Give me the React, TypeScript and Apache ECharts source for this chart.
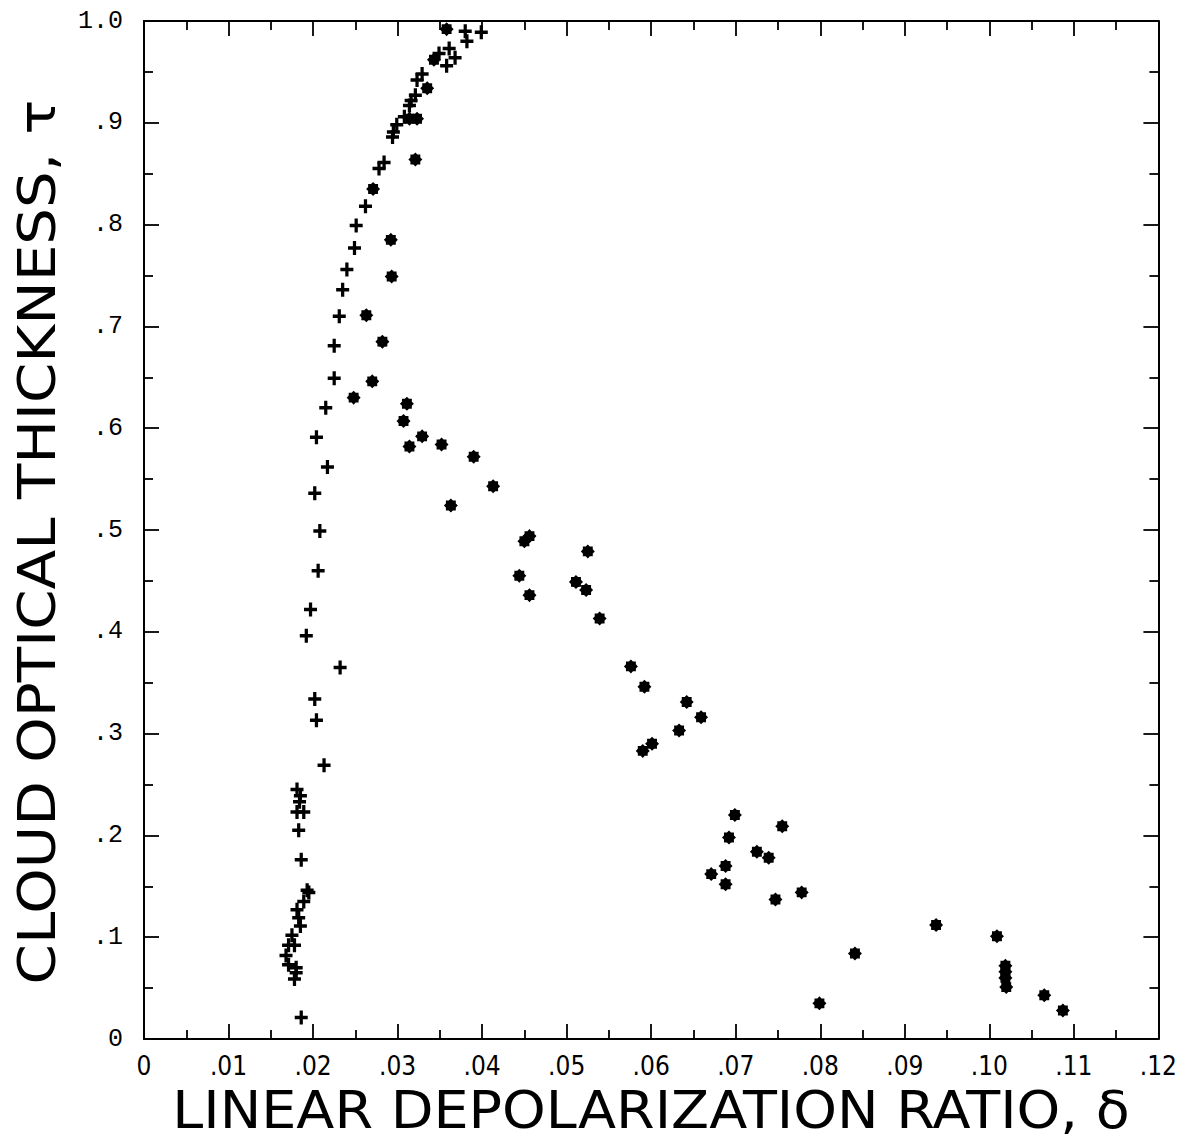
import React, { useEffect, useRef } from "react";
import * as echarts from "echarts";

// "+" series: linear depolarization ratio (delta) vs cloud optical thickness (tau)
const plusDelta = [
  0.0380, 0.0399, 0.0382, 0.0361, 0.0349, 0.0368, 0.0358, 0.0329, 0.0323, 0.0321,
  0.0316, 0.0314, 0.0308, 0.0299, 0.0295, 0.0294, 0.0284, 0.0278, 0.0262, 0.0251,
  0.0249, 0.0240, 0.0235, 0.0231, 0.0225, 0.0225, 0.0215, 0.0204, 0.0217, 0.0202,
  0.0208, 0.0206, 0.0197, 0.0192, 0.0232, 0.0202, 0.0204, 0.0213, 0.0181, 0.0185,
  0.0184, 0.0181, 0.0189, 0.0183, 0.0186, 0.0195, 0.0193, 0.0189, 0.0181, 0.0183,
  0.0185, 0.0175, 0.0171, 0.0178, 0.0168, 0.0171, 0.0180, 0.0180, 0.0178, 0.0186,
];
const plusTau = [
  0.990, 0.989, 0.980, 0.973, 0.968, 0.964, 0.956, 0.948, 0.942, 0.927,
  0.922, 0.917, 0.906, 0.898, 0.891, 0.886, 0.861, 0.855, 0.818, 0.799,
  0.777, 0.756, 0.736, 0.710, 0.681, 0.649, 0.620, 0.591, 0.562, 0.536,
  0.499, 0.460, 0.422, 0.396, 0.365, 0.334, 0.313, 0.269, 0.245, 0.239,
  0.233, 0.223, 0.223, 0.205, 0.176, 0.144, 0.146, 0.135, 0.127, 0.119,
  0.111, 0.102, 0.092, 0.092, 0.082, 0.073, 0.070, 0.065, 0.059, 0.021,
];

// asterisk series
const starDelta = [
  0.0358, 0.0343, 0.0335, 0.0314, 0.0323, 0.0321, 0.0271, 0.0292, 0.0293, 0.0263,
  0.0282, 0.0270, 0.0248, 0.0311, 0.0307, 0.0314, 0.0329, 0.0352, 0.0390, 0.0413,
  0.0363, 0.0450, 0.0456, 0.0444, 0.0456, 0.0525, 0.0511, 0.0523, 0.0539, 0.0576,
  0.0592, 0.0642, 0.0659, 0.0633, 0.0590, 0.0601, 0.0699, 0.0755, 0.0692, 0.0725,
  0.0739, 0.0688, 0.0671, 0.0688, 0.0747, 0.0778, 0.0937, 0.0841, 0.1009, 0.1019,
  0.1019, 0.1019, 0.1020, 0.0799, 0.1065, 0.1087,
];
const starTau = [
  0.992, 0.962, 0.934, 0.904, 0.904, 0.864, 0.835, 0.785, 0.749, 0.711,
  0.685, 0.646, 0.630, 0.624, 0.607, 0.582, 0.592, 0.584, 0.572, 0.543,
  0.524, 0.489, 0.494, 0.455, 0.436, 0.479, 0.449, 0.441, 0.413, 0.366,
  0.346, 0.331, 0.316, 0.303, 0.283, 0.290, 0.220, 0.209, 0.198, 0.184,
  0.178, 0.170, 0.162, 0.152, 0.137, 0.144, 0.112, 0.084, 0.101, 0.072,
  0.066, 0.060, 0.051, 0.035, 0.043, 0.028,
];

const xTitle = "LINEAR DEPOLARIZATION RATIO, δ";
const yTitle = "CLOUD OPTICAL THICKNESS, τ";

const TITLE_FONT = "'DejaVu Sans', sans-serif";
const XLABEL_FONT = "'Liberation Sans Narrow', 'DejaVu Sans Condensed', 'DejaVu Sans', sans-serif";
const YLABEL_FONT = "'Liberation Mono', 'DejaVu Sans Mono', monospace";

const plusPath = "path://M9,0 H15 V9 H24 V15 H15 V24 H9 V15 H0 V9 H9 Z";

function starPath(): string {
  const pts: string[] = [];
  for (let i = 0; i < 16; i++) {
    const a = (-90 + i * 22.5) * (Math.PI / 180);
    const r = i % 2 === 0 ? 12 : 9.2;
    pts.push(`${(12 + r * Math.cos(a)).toFixed(2)},${(12 + r * Math.sin(a)).toFixed(2)}`);
  }
  return "path://M" + pts.join(" L") + " Z";
}

function measure(text: string, font: string): number {
  const c = document.createElement("canvas");
  const ctx = c.getContext("2d");
  if (!ctx) return text.length * 30;
  ctx.font = font;
  return ctx.measureText(text).width;
}

export default function App() {
  const ref = useRef<HTMLDivElement>(null);

  useEffect(() => {
    if (!ref.current) return;
    const chart = echarts.init(ref.current, undefined, { renderer: "svg" });

    const titleSize = 52;
    const xTitleW = measure(xTitle, `${titleSize}px ${TITLE_FONT}`);
    const yTitleW = measure(yTitle, `${titleSize}px ${TITLE_FONT}`);
    const xScale = 958 / xTitleW;
    const yScale = 885 / yTitleW;

    const plusData = plusDelta.map((d, i) => [d, plusTau[i]]);
    const starData = starDelta.map((d, i) => [d, starTau[i]]);

    const xFmt = (v: number) => {
      const n = Math.round(v * 100);
      if (n === 0) return "0";
      return "." + String(n).padStart(2, "0");
    };
    const yFmt = (v: number) => {
      const n = Math.round(v * 10);
      if (n === 0) return "0";
      if (n === 10) return "1.0";
      return "." + n;
    };

    const lineStyle = { color: "#000", width: 2 };
    const tickStyle = { color: "#000", width: 1.8 };

    const xCommon = {
      type: "value" as const,
      min: 0,
      max: 0.12,
      interval: 0.01,
      splitLine: { show: false },
      axisLine: { show: true, lineStyle, onZero: false },
      axisTick: { show: true, inside: true, length: 15, lineStyle: tickStyle },
      minorTick: { show: true, splitNumber: 2, length: 9, lineStyle: tickStyle },
      minorSplitLine: { show: false },
    };
    const yCommon = {
      type: "value" as const,
      min: 0,
      max: 1,
      interval: 0.1,
      splitLine: { show: false },
      axisLine: { show: true, lineStyle, onZero: false },
      axisTick: { show: true, inside: true, length: 15, lineStyle: tickStyle },
      minorTick: { show: true, splitNumber: 2, length: 9, lineStyle: tickStyle },
      minorSplitLine: { show: false },
    };

    chart.setOption({
      animation: false,
      backgroundColor: "#fff",
      grid: { left: 144, top: 21, width: 1018, height: 1018, containLabel: false },
      xAxis: [
        {
          ...xCommon,
          position: "bottom",
          axisLabel: {
            show: true,
            formatter: xFmt,
            color: "#000",
            fontFamily: XLABEL_FONT,
            fontSize: 26,
            margin: 14,
          },
        },
        { ...xCommon, position: "top", axisLabel: { show: false } },
      ],
      yAxis: [
        {
          ...yCommon,
          position: "left",
          axisLabel: {
            show: true,
            formatter: yFmt,
            color: "#000",
            fontFamily: YLABEL_FONT,
            fontSize: 25,
            margin: 21,
          },
        },
        { ...yCommon, position: "right", axisLabel: { show: false } },
      ],
      series: [
        {
          type: "scatter",
          name: "plus",
          data: plusData,
          symbol: plusPath,
          symbolSize: [13, 14],
          itemStyle: { color: "#000", opacity: 1 },
          silent: true,
        },
        {
          type: "scatter",
          name: "star",
          data: starData,
          symbol: starPath(),
          symbolSize: 14,
          itemStyle: { color: "#000", opacity: 1 },
          silent: true,
        },
      ],
      graphic: [
        {
          type: "text",
          x: 651,
          y: 1110,
          scaleX: xScale,
          scaleY: 1,
          style: {
            text: xTitle,
            x: 0,
            y: 0,
            align: "center",
            verticalAlign: "middle",
            fontFamily: TITLE_FONT,
            fontSize: titleSize,
            fill: "#000",
          },
        },
        {
          type: "text",
          x: 37,
          y: 542,
          rotation: Math.PI / 2,
          scaleX: yScale,
          scaleY: 1,
          style: {
            text: yTitle,
            x: 0,
            y: 0,
            align: "center",
            verticalAlign: "middle",
            fontFamily: TITLE_FONT,
            fontSize: titleSize,
            fill: "#000",
          },
        },
      ],
    });

    return () => chart.dispose();
  }, []);

  return (
    <div
      ref={ref}
      style={{ position: "absolute", left: 0, top: 0, width: 1180, height: 1144, background: "#fff" }}
    />
  );
}
